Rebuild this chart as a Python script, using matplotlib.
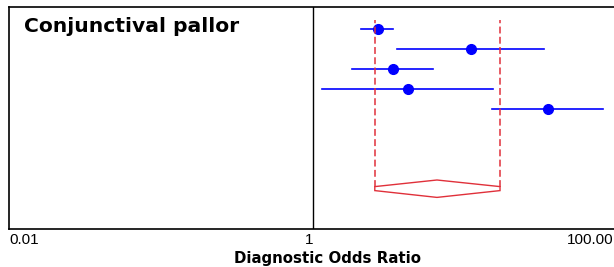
import numpy as np
import matplotlib
matplotlib.use("Agg")
import matplotlib.pyplot as plt
import matplotlib.transforms as mtransforms
from matplotlib.patches import Polygon

# study-level diagnostic odds ratios with 95% CI
dor = [2.69, 11.0, 3.38, 4.20, 35.0]
ci_lo = [2.06, 3.55, 1.80, 1.14, 15.0]
ci_hi = [3.38, 33.1, 6.13, 15.2, 80.5]
rows = [10, 9, 8, 7, 6]

# pooled estimate
pooled = 6.54
pooled_lo = 2.55
pooled_hi = 17.0
pooled_row = 2

tick_vals = [0.01, 1, 100]
tick_labels = ["0.01", "1", "100.00"]

blue = "#0000ff"
red = "#e0303a"

fig = plt.figure(figsize=(6.14, 2.67), dpi=100)
ax = fig.add_axes([9 / 614, 38 / 267, 608 / 614, 222 / 267])
ax.set_xscale("log")
ax.set_xlim(0.01, 100)
ax.set_ylim(0, 11.1)

for y, d, lo, hi in zip(rows, dor, ci_lo, ci_hi):
    ax.plot([lo, hi], [y, y], color=blue, lw=1.2)
    ax.plot(d, y, marker="o", ms=7, color=blue, mec=blue)

# dashed limits of pooled CI
for xv in (pooled_lo, pooled_hi):
    ax.plot([xv, xv], [pooled_row + 0.1, 10.45], color=red, lw=1.1,
            dashes=(4.5, 2.2))

diamond = Polygon([(pooled_lo, pooled_row + 0.12), (pooled, pooled_row + 0.45),
                   (pooled_hi, pooled_row + 0.12), (pooled_hi, pooled_row - 0.08),
                   (pooled, pooled_row - 0.42), (pooled_lo, pooled_row - 0.08)],
                  closed=True, fill=False, edgecolor=red, lw=1.0)
ax.add_patch(diamond)

ax.axvline(1, color="black", lw=1.0)

ax.set_yticks([])
ax.set_xticks(tick_vals)
ax.set_xticklabels(tick_labels, fontsize=11, family="Liberation Sans")
ax.xaxis.set_minor_locator(matplotlib.ticker.NullLocator())
ax.tick_params(axis="x", length=0, pad=3)
labs = ax.get_xticklabels()
labs[0].set_ha("left")
labs[1].set_ha("right")
labs[2].set_ha("right")
labs[2].set_transform(labs[2].get_transform() +
                      mtransforms.ScaledTranslation(-4 / 100, 0, fig.dpi_scale_trans))
for sp in ax.spines.values():
    sp.set_linewidth(1.2)

ax.text(0.025, 0.955, "Conjunctival pallor", transform=ax.transAxes,
        fontsize=14.6, fontweight="bold", family="DejaVu Sans",
        ha="left", va="top")

fig.text(327 / 614, 0.004, "Diagnostic Odds Ratio", fontsize=10.8,
         fontweight="bold", family="DejaVu Sans", ha="center", va="bottom")

fig.savefig("out.png", dpi=100)
